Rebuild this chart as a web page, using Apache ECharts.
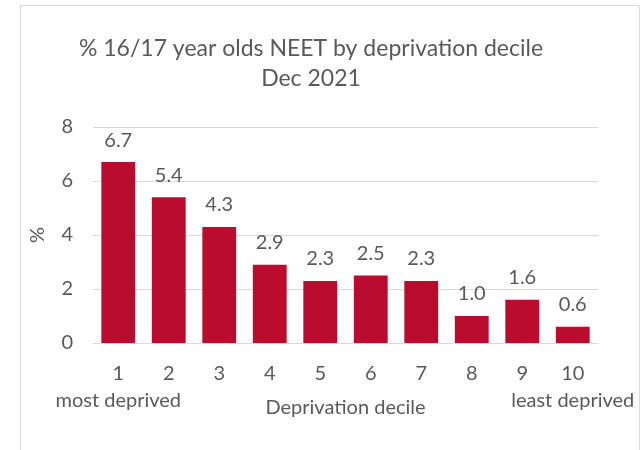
<!DOCTYPE html>
<html>
<head>
<meta charset="utf-8">
<script src="https://cdn.jsdelivr.net/npm/echarts@6/dist/echarts.min.js"></script>
<style>
  html, body { margin: 0; padding: 0; background: #fff; }
  #chart { width: 642px; height: 450px; }
</style>
</head>
<body>
<div id="chart"></div>
<script>
// Deprivation deciles and NEET rates (%)
const deciles = ['1', '2', '3', '4', '5', '6', '7', '8', '9', '10'];
const neetPct = [6.7, 5.4, 4.3, 2.9, 2.3, 2.5, 2.3, 1.0, 1.6, 0.6];
// Extra captions under the first and last decile
const endCaptions = { '1': 'most deprived', '10': 'least deprived' };
const yTicks = [0, 2, 4, 6, 8];

const textColor = '#595959';
const fontFamily = 'Lato, "Open Sans", sans-serif';
const labelSize = 20;

const chart = echarts.init(document.getElementById('chart'), null, { renderer: 'canvas' });

chart.setOption({
  animation: false,
  textStyle: { fontFamily: fontFamily, color: textColor },
  graphic: [{
    type: 'rect',
    shape: { x: 20.5, y: 5.5, width: 619, height: 460 },
    style: { fill: 'none', stroke: '#d9d9d9', lineWidth: 1 },
    silent: true
  }],
  title: {
    text: '% 16/17 year olds NEET by deprivation decile\nDec 2021',
    left: 306,
    textAlign: 'center',
    top: 29,
    textStyle: {
      fontFamily: fontFamily,
      fontSize: 23,
      fontWeight: 'normal',
      color: textColor,
      lineHeight: 30
    }
  },
  grid: { left: 93, right: 44, top: 127, bottom: 107 },
  xAxis: {
    type: 'category',
    data: deciles,
    name: 'Deprivation decile',
    nameLocation: 'middle',
    nameGap: 55,
    nameMoveOverlap: false,
    nameTextStyle: { fontSize: labelSize, color: textColor, fontFamily: fontFamily },
    axisLine: { lineStyle: { color: '#d9d9d9', width: 1 } },
    axisTick: { show: false },
    axisLabel: {
      margin: 17,
      interval: 0,
      fontSize: labelSize,
      color: textColor,
      lineHeight: 27,
      hideOverlap: false,
      formatter: function (v) {
        return endCaptions[v] ? v + '\n' + endCaptions[v] : v;
      }
    }
  },
  yAxis: {
    type: 'value',
    min: yTicks[0],
    max: yTicks[yTicks.length - 1],
    interval: yTicks[1] - yTicks[0],
    name: '%',
    nameLocation: 'middle',
    nameRotate: 90,
    nameGap: 45,
    nameMoveOverlap: false,
    nameTextStyle: { fontSize: labelSize, color: textColor, fontFamily: fontFamily },
    axisLine: { show: false },
    axisTick: { show: false },
    axisLabel: { margin: 20, fontSize: labelSize, color: textColor },
    splitLine: { lineStyle: { color: '#d9d9d9', width: 1 } }
  },
  series: [{
    type: 'bar',
    data: neetPct,
    barWidth: '67%',
    itemStyle: { color: '#BA0C2F' },
    label: {
      show: true,
      position: 'top',
      distance: 12,
      fontSize: labelSize,
      color: textColor,
      formatter: function (p) { return p.value.toFixed(1); }
    }
  }]
});
</script>
</body>
</html>
